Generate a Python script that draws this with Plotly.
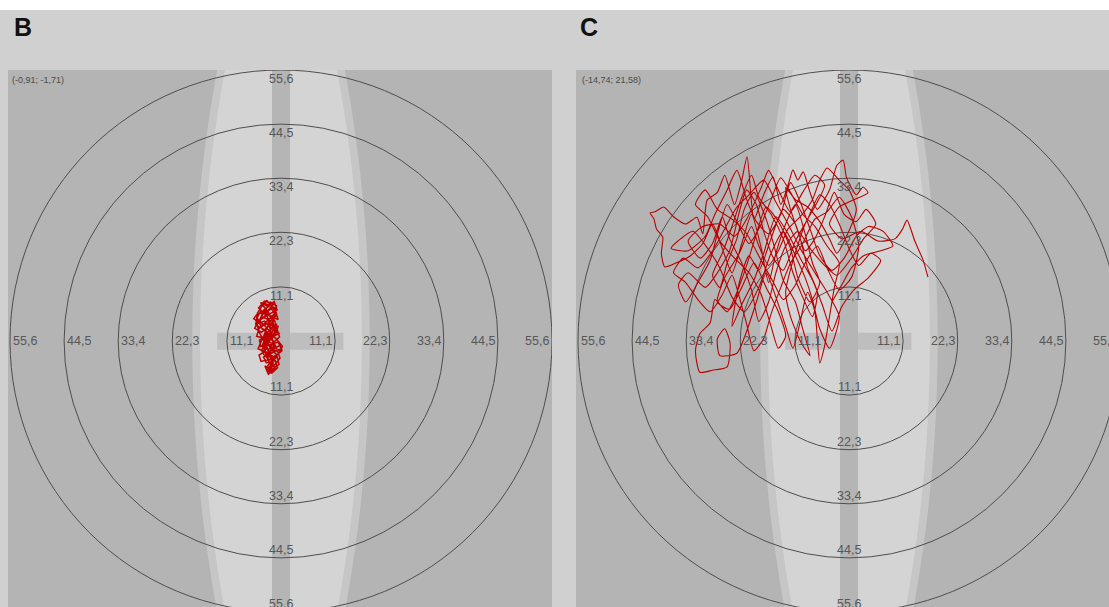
import numpy as np
import plotly.graph_objects as go

# ---------------- data ----------------
ring_values = [11.1, 22.3, 33.4, 44.5, 55.6]
ring_labels = ["11,1", "22,3", "33,4", "44,5", "55,6"]
panel_letters = ["B", "C"]
mean_labels = ["(-0,91; -1,71)", "(-14,74; 21,58)"]

# Panel B trajectory (x, y) in the same units as the rings
traj_b = [(-3.0, 5.2), (-4.6, 6.8), (-3.4, 8.2), (-1.5, 7.6), (-2.8, 6.1), (-4.9, 5.5),
          (-5.6, 4.6), (-3.9, 3.1), (-1.0, 5.9), (-2.2, 7.4), (-3.6, 6.3), (-1.3, 4.2),
          (-0.9, 2.6), (-2.6, 3.7), (-4.4, 2.8), (-5.0, 1.0), (-3.0, 0.4), (-0.7, 2.1),
          (-0.3, 0.8), (-1.8, -0.5), (-3.9, 0.3), (-4.7, -1.6), (-2.9, -2.4), (-0.2, -0.9),
          (0.2, -2.0), (-1.4, -3.3), (-3.3, -2.1), (-4.5, -2.9), (-4.1, -4.2), (-2.0, -3.7),
          (-0.5, -2.6), (0.3, -1.1), (-1.1, 0.6), (-2.9, 1.5), (-3.8, -0.8), (-2.4, -4.6),
          (-0.8, -3.2), (-0.4, -4.8), (-2.0, -5.9), (-3.3, -5.1), (-2.6, -6.8), (-1.2, -5.6),
          (-1.9, -4.0), (-2.8, -5.2), (-2.3, -6.3), (-1.6, -4.4), (-2.1, -2.8), (-3.0, -1.2),
          (-3.6, 0.9), (-2.2, 2.4), (-0.9, 3.5), (-1.6, 1.1), (-3.1, 2.9), (-4.3, 4.0),
          (-3.7, 6.0), (-1.8, 5.0), (-0.6, 4.4), (-1.3, 6.8), (-3.5, 7.8), (-4.8, 5.8),
          (-5.2, 3.3), (-3.2, 2.2), (-1.5, -0.3), (-2.6, -1.9), (-3.9, -1.0), (-2.5, 1.7),
          (-1.4, -0.7), (-2.7, -3.5), (-3.4, -1.4), (-2.0, 0.5), (-0.8, 1.9), (-2.4, 4.3),
          (-4.0, 5.0), (-2.2, 8.0), (-0.9, 7.2), (-1.8, 3.0), (-2.9, -0.2), (-1.2, -2.2),
          (-3.1, 6.5), (-4.2, 7.9), (-2.6, 7.0), (-1.4, 8.1), (-0.8, 6.4), (-2.4, 5.5),
          (-4.5, 4.2), (-5.4, 2.6), (-4.0, 1.8), (-2.2, 3.3), (-0.6, 3.0), (-1.1, 1.5),
          (-2.7, 0.9), (-4.4, 0.2), (-4.2, -1.1), (-2.5, -0.9), (-0.6, -0.2), (0.1, -1.6),
          (-1.6, -2.3), (-3.6, -3.3), (-3.0, -4.5), (-1.2, -4.0), (-0.7, -5.5), (-1.9, -6.6),
          (-2.9, -6.0), (-2.2, -5.0), (-1.5, -3.2), (-2.8, -2.7), (-4.0, -2.0), (-3.2, -0.3),
          (-1.7, 0.8), (-0.4, 1.6), (-1.9, 2.6), (-3.4, 4.1), (-4.7, 3.6), (-3.9, 5.4),
          (-2.0, 6.6), (-1.0, 5.2), (-2.3, 4.0), (-3.5, 1.2), (-2.1, -1.6), (-0.9, -2.8),
          (-2.4, -3.9), (-3.7, -2.6), (-2.6, 0.2), (-1.3, 2.9), (-2.6, 6.0), (-3.8, 7.4),
          (-2.9, 8.3), (-2.0, 7.2), (-3.4, 5.0), (-5.0, 4.0), (-4.6, 2.0), (-3.1, -0.6),
          (-1.8, -4.6), (-2.4, -5.8), (-1.3, -4.9), (-0.2, -3.5), (-1.0, -1.3), (-2.2, 1.2),
          (-3.9, 2.5), (-4.9, 4.8), (-4.0, 6.4)]

# Panel C trajectory (x, y)
traj_c = [(16.2, 13.1), (15.2, 16.6), (13.5, 20.5), (11.9, 24.8), (11.0, 23.0), (9.5, 21.0),
          (6.0, 20.5), (2.5, 22.5), (-1.5, 21.0), (-4.0, 24.0), (-2.0, 27.5), (1.0, 29.0),
          (3.9, 30.4), (2.9, 31.6), (1.5, 30.0), (-0.5, 33.5), (-1.2, 37.1), (-2.5, 36.0),
          (-4.0, 31.0), (-6.5, 27.0), (-8.0, 30.5), (-9.4, 34.7), (-10.5, 33.0), (-11.5, 35.1),
          (-12.5, 32.0), (-14.0, 28.0), (-15.6, 33.7), (-17.5, 30.0), (-19.5, 25.0), (-20.9, 37.8),
          (-22.0, 33.0), (-23.5, 28.0), (-25.5, 34.0), (-27.0, 30.5), (-29.1, 28.9), (-30.0, 22.0),
          (-31.2, 25.4), (-33.5, 24.0), (-36.0, 25.5), (-38.0, 27.5), (-39.8, 26.5), (-40.8, 26.3),
          (-40.0, 25.0), (-39.5, 23.0), (-38.2, 21.3), (-38.5, 18.0), (-37.8, 15.2), (-35.5, 16.0),
          (-32.5, 17.5), (-30.0, 20.0), (-28.0, 24.0), (-26.0, 19.0), (-24.0, 14.0), (-22.0, 20.0),
          (-20.0, 26.0), (-18.0, 19.0), (-16.5, 12.0), (-15.0, 18.0), (-13.0, 24.0), (-11.0, 28.0),
          (-9.0, 22.0), (-7.5, 16.0), (-6.0, 12.0), (-8.0, 8.0), (-10.5, 13.0), (-12.0, 19.0),
          (-14.5, 24.5), (-17.0, 27.5), (-19.0, 22.0), (-21.0, 15.5), (-23.0, 10.0), (-25.0, 6.0),
          (-27.5, 8.5), (-28.5, 3.7), (-30.6, 1.5), (-31.5, -2.0), (-30.6, -6.4), (-28.0, -6.0),
          (-25.0, -5.3), (-24.4, -0.4), (-25.5, 2.5), (-27.0, 0.5), (-26.5, -3.0), (-23.0, -2.5),
          (-21.0, 2.0), (-19.0, 8.0), (-17.0, 14.0), (-15.0, 9.0), (-13.0, 3.0), (-11.5, -1.5),
          (-10.0, 4.0), (-8.5, 10.0), (-7.0, 6.0), (-6.0, -4.5), (-5.0, -1.0), (-4.0, 5.0),
          (-3.0, 11.0), (-2.0, 16.0), (-4.5, 19.5), (-7.0, 23.5), (-9.5, 26.0), (-12.0, 30.5),
          (-14.0, 33.5), (-16.0, 29.0), (-18.0, 24.0), (-20.5, 20.0), (-23.0, 24.5), (-25.0, 28.0),
          (-27.0, 22.0), (-28.5, 16.5), (-31.0, 12.0), (-33.5, 8.0), (-35.0, 11.5), (-33.0, 14.0),
          (-29.5, 11.0), (-27.0, 14.0), (-24.5, 18.5), (-22.5, 26.5), (-21.0, 31.0), (-19.0, 28.0),
          (-17.5, 22.5), (-15.5, 17.0), (-13.5, 14.5), (-11.0, 20.5), (-8.5, 25.0), (-6.0, 30.0),
          (-4.0, 28.0), (-2.0, 24.0), (0.0, 19.0), (2.0, 15.5), (4.5, 18.0), (6.5, 16.5),
          (4.0, 13.0), (1.0, 10.5), (-1.5, 7.0), (-3.5, 2.0), (-5.5, 7.5), (-7.5, 12.5),
          (-10.0, 17.0), (-12.5, 22.0), (-15.0, 25.5), (-17.5, 18.0), (-19.5, 12.5), (-22.0, 7.5),
          (-24.0, 3.0), (-22.5, 12.0), (-20.5, 17.5), (-18.5, 14.5), (-16.0, 21.0), (-13.5, 27.0),
          (-11.0, 24.0), (-9.0, 18.5), (-7.0, 21.0), (-5.0, 25.5), (-3.0, 30.5), (-1.0, 26.0),
          (1.5, 24.5), (3.5, 27.0), (5.5, 24.0), (3.0, 21.0), (0.5, 17.0), (-2.5, 13.5),
          (-5.0, 15.5), (-8.0, 19.0), (-10.5, 22.5), (-13.0, 19.5), (-15.0, 14.0), (-16.5, 8.0),
          (-18.5, 4.0), (-20.0, 10.5), (-22.0, 16.0), (-24.5, 21.0), (-26.0, 25.5), (-28.0, 20.0),
          (-30.5, 17.0), (-33.0, 20.5), (-30.0, 23.5), (-26.5, 24.0), (-23.5, 21.5), (-21.0, 25.0),
          (-18.0, 31.5), (-16.5, 35.0), (-14.5, 31.0), (-12.0, 26.5), (-9.5, 30.5), (-7.0, 34.0),
          (-5.0, 32.0), (-6.5, 28.5), (-9.0, 24.0), (-11.5, 16.5), (-13.0, 10.0), (-12.0, 5.0),
          (-10.0, 0.0), (-8.0, -3.0), (-9.5, 2.5), (-11.0, 8.0),
          (-13.5, 12.5), (-15.5, 20.0), (-17.0, 25.0), (-19.5, 30.5), (-21.5, 27.0), (-23.0, 21.0),
          (-25.0, 16.0), (-26.5, 11.0), (-28.0, 13.5), (-26.0, 18.0), (-24.0, 23.5), (-22.0, 29.5),
          (-20.0, 34.0), (-18.5, 29.5), (-16.0, 26.0), (-13.5, 21.0), (-11.5, 14.0), (-9.5, 9.0),
          (-7.5, 5.0), (-6.5, 10.0), (-8.5, 15.0), (-10.0, 21.0), (-12.0, 27.0), (-13.0, 31.5),
          (-11.0, 29.0), (-8.5, 27.5), (-6.0, 24.5), (-4.0, 21.0), (-2.5, 18.0), (-0.5, 21.5),
          (1.5, 27.0), (0.0, 31.0), (-2.0, 33.0), (-4.5, 35.5), (-6.0, 33.0), (-7.5, 29.0),
          (-10.0, 25.5), (-12.5, 23.0), (-14.5, 18.5), (-16.5, 15.5), (-18.5, 19.5), (-20.0, 23.5),
          (-22.5, 18.0), (-25.5, 13.0), (-27.0, 8.0), (-24.5, 6.5), (-22.0, 11.0), (-19.5, 16.0),
          (-17.0, 11.0), (-14.5, 6.0), (-13.0, 1.0), (-14.5, -1.5), (-16.0, 3.0), (-18.0, 9.5),
          (-20.5, 14.0), (-23.5, 17.0), (-26.5, 20.5), (-29.0, 25.5), (-31.5, 28.0), (-29.5, 31.0),
          (-27.0, 27.0), (-24.0, 25.0), (-21.0, 22.0), (-18.0, 16.5), (-15.5, 12.0), (-13.5, 8.5),
          (-11.0, 11.5), (-9.0, 16.0), (-6.5, 19.5), (-4.5, 15.0), (-2.0, 10.5), (0.5, 13.0),
          (2.0, 19.5), (0.5, 25.5), (-2.0, 29.5), (-4.5, 26.5), (-7.0, 25.0), (-9.5, 20.0),
          (-12.0, 16.0), (-14.0, 11.0), (-16.0, 5.5), (-17.5, 0.5), (-19.5, -2.0), (-21.0, 3.5),
          (-22.5, 9.0), (-24.0, 13.5), (-26.0, 9.5), (-28.5, 6.0), (-31.0, 8.5), (-33.5, 12.0),
          (-36.0, 14.0), (-34.0, 17.0), (-31.0, 15.0), (-28.0, 18.5), (-25.5, 23.0), (-23.0, 27.5),
          (-20.5, 30.0), (-17.5, 33.0), (-15.0, 28.5), (-12.5, 24.0), (-10.0, 19.0), (-7.0, 14.0),
          (-4.5, 10.0), (-2.0, 5.0), (-4.0, -1.5), (-6.0, 2.5), (-7.5, 8.5), (-9.0, 13.0),
          (-11.0, 17.5), (-13.5, 22.5), (-16.0, 18.0), (-18.5, 11.0), (-21.5, 6.0), (-24.0, 9.0),
          (-26.5, 15.0), (-29.0, 19.0), (-32.0, 22.5), (-34.5, 21.0), (-36.5, 19.0), (-33.0, 18.5),
          (-29.5, 21.5), (-27.5, 26.0), (-25.0, 31.0), (-23.0, 35.0), (-21.0, 29.0), (-19.0, 24.5),
          (-16.5, 22.0), (-14.0, 26.0), (-12.0, 32.5), (-10.0, 28.5), (-8.0, 23.0), (-6.0, 17.5),
          (-3.5, 14.5), (-1.0, 17.0), (1.5, 21.5), (4.0, 23.5), (7.0, 22.5), (9.0, 19.5),
          (6.5, 18.5), (3.0, 17.5), (0.5, 15.0), (-1.5, 11.5), (-3.5, 8.0)]

trajectories = [traj_b, traj_c]

# ---------------- layout constants (pixels) ----------------
W, H = 1109, 607
SCALE = 271 / 55.6          # pixels per unit
CY = 341
TOP, BOTTOM = 70, 607
panels = [dict(left=8, right=552, cx=281, tx=10, lx=12),
          dict(left=576, right=1109, cx=849, tx=580, lx=578)]

BG = "#b4b4b4"
BAND = "#d4d4d4"
BAND_EDGE = "#c6c6c6"
STRIP = "#b5b5b5"
BAR = "#bebebe"
RING = "#4e4e4e"
TXT = "#575757"

fig = go.Figure()
shapes = []
annotations = []


def band_path(extra):
    ys = np.linspace(-62, 62, 41)
    w = 16.6 - 5.1 * (ys / 55.6) ** 2 + extra
    pts = [(-wi, yi) for wi, yi in zip(w, ys)] + [(wi, yi) for wi, yi in zip(w[::-1], ys[::-1])]
    return "M " + " L ".join(f"{x:.3f},{y:.3f}" for x, y in pts) + " Z"


def paper_label(px, py, text, xanchor, size=12.5, color=TXT, family="Liberation Sans, Arial"):
    """Place a text at pixel position (px, py) of the figure (origin top-left)."""
    xp = min(max(px / W, 0.0), 1.0)
    yp = min(max(1 - py / H, 0.0), 1.0)
    return dict(xref="paper", yref="paper", x=xp, y=yp, xshift=px - xp * W,
                yshift=(1 - py / H - yp) * H, xanchor=xanchor, yanchor="middle",
                text=text, showarrow=False, font=dict(family=family, size=size, color=color))


for i, p in enumerate(panels):
    sfx = "" if i == 0 else str(i + 1)
    xr, yr = "x" + sfx, "y" + sfx
    xrange = [(p["left"] - p["cx"]) / SCALE, (p["right"] - p["cx"]) / SCALE]
    yrange = [(CY - BOTTOM) / SCALE, (CY - TOP) / SCALE]
    fig.layout["xaxis" + sfx] = dict(domain=[p["left"] / W, p["right"] / W], range=xrange,
                                     visible=False, fixedrange=True)
    fig.layout["yaxis" + sfx] = dict(domain=[0, 1 - TOP / H], range=yrange,
                                     visible=False, fixedrange=True)

    # background pieces
    shapes.append(dict(type="path", path=band_path(1.6), xref=xr, yref=yr, layer="below",
                       fillcolor=BAND_EDGE, line=dict(width=0)))
    shapes.append(dict(type="path", path=band_path(0.0), xref=xr, yref=yr, layer="below",
                       fillcolor=BAND, line=dict(width=0)))
    shapes.append(dict(type="rect", x0=-13.1, x1=12.8, y0=-1.8, y1=1.7, xref=xr, yref=yr,
                       layer="below", fillcolor=BAR, line=dict(width=0)))
    shapes.append(dict(type="rect", x0=-1.85, x1=1.85, y0=-70, y1=70, xref=xr, yref=yr,
                       layer="below", fillcolor=STRIP, line=dict(width=0)))

    # rings and their labels
    for r, lab in zip(ring_values, ring_labels):
        shapes.append(dict(type="circle", x0=-r, x1=r, y0=-r, y1=r, xref=xr, yref=yr,
                           layer="below", line=dict(color=RING, width=1)))
        rp = r * SCALE
        annotations.append(paper_label(p["cx"], CY - rp + 9, lab, "center"))
        annotations.append(paper_label(p["cx"], CY + rp - 8, lab, "center"))
        annotations.append(paper_label(p["cx"] - rp + 1, CY, lab, "left"))
        annotations.append(paper_label(p["cx"] + rp - 1, CY, lab, "right"))

    # trajectory
    tx, ty = zip(*trajectories[i])
    if i == 0:
        line = dict(color="#c00000", width=1.5)
    else:
        line = dict(color="#b80000", width=1.1, shape="spline", smoothing=0.6)
    fig.add_trace(go.Scatter(x=list(tx), y=list(ty), mode="lines", xaxis=xr, yaxis=yr,
                             line=line, hoverinfo="skip"))

    # mean label and panel letter
    annotations.append(paper_label(p["tx"], 80, mean_labels[i], "left", size=9, color="#4a4a4a"))
    annotations.append(paper_label(p["lx"], 27, "<b>" + panel_letters[i] + "</b>", "left",
                                   size=25, color="#111111"))

# white strip on top
shapes.append(dict(type="rect", xref="paper", yref="paper", x0=0, x1=1, y0=1 - 10 / H, y1=1,
                   fillcolor="white", line=dict(width=0), layer="below"))

fig.update_layout(width=W, height=H, margin=dict(l=0, r=0, t=0, b=0),
                  paper_bgcolor="#d0d0d0", plot_bgcolor=BG, showlegend=False,
                  shapes=shapes, annotations=annotations)

fig.write_html("out.html", post_script="document.body.style.margin='0';",
               config={"displayModeBar": False})
